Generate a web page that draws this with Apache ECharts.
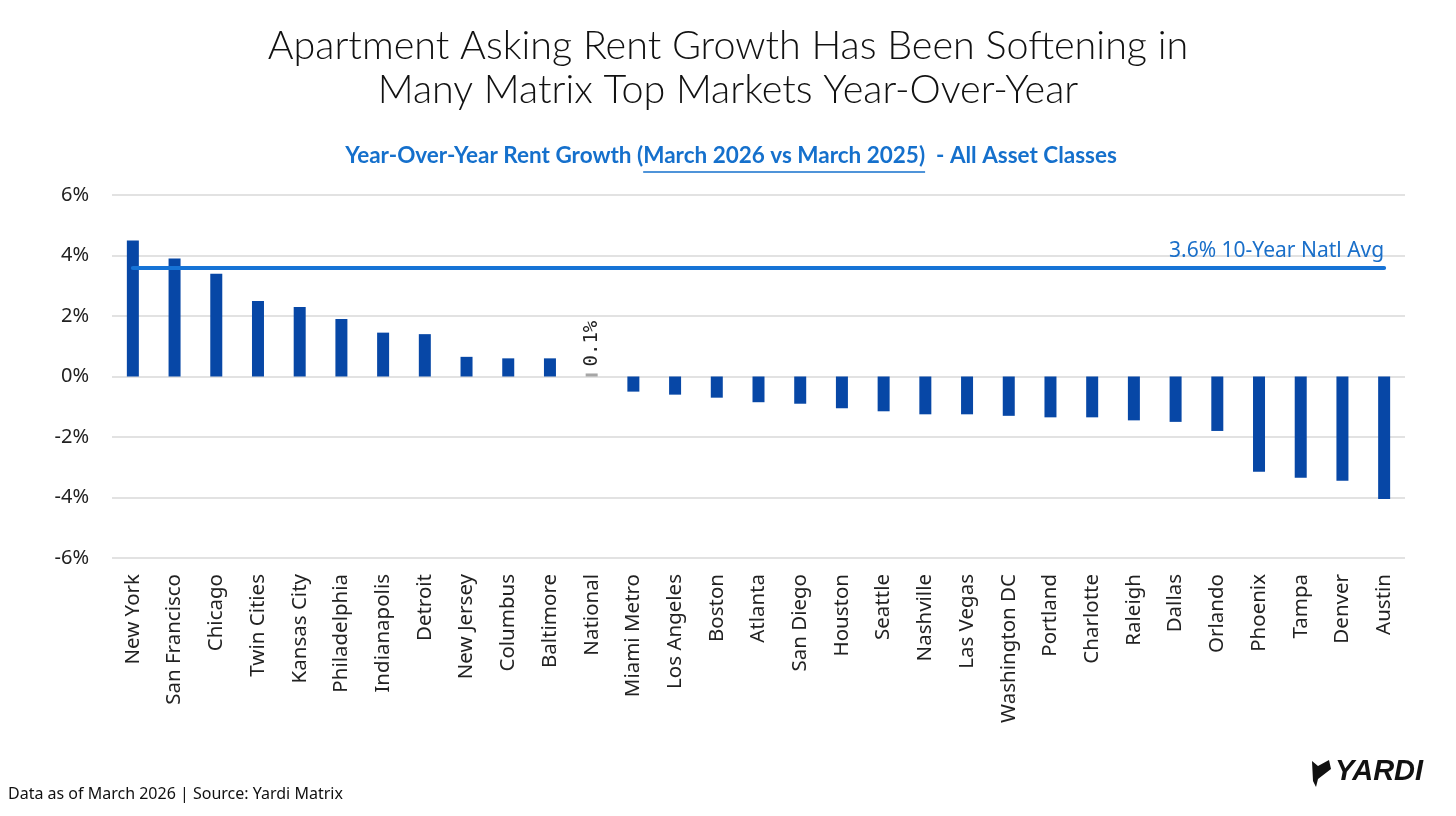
<!DOCTYPE html>
<html>
<head>
<meta charset="utf-8">
<script src="https://cdn.jsdelivr.net/npm/echarts@6/dist/echarts.min.js"></script>
<style>
  html, body { margin: 0; padding: 0; background: #fff; }
  #chart { width: 1456px; height: 816px; }
</style>
</head>
<body>
<div id="chart"></div>
<script>
// markets, sorted as in the source chart
const markets = ['New York', 'San Francisco', 'Chicago', 'Twin Cities', 'Kansas City', 'Philadelphia',
  'Indianapolis', 'Detroit', 'New Jersey', 'Columbus', 'Baltimore', 'National', 'Miami Metro',
  'Los Angeles', 'Boston', 'Atlanta', 'San Diego', 'Houston', 'Seattle', 'Nashville', 'Las Vegas',
  'Washington DC', 'Portland', 'Charlotte', 'Raleigh', 'Dallas', 'Orlando', 'Phoenix', 'Tampa',
  'Denver', 'Austin'];
// YoY rent growth, %
const growth = [4.5, 3.9, 3.4, 2.5, 2.3, 1.9, 1.45, 1.4, 0.65, 0.6, 0.6, 0.1, -0.5,
  -0.6, -0.7, -0.85, -0.9, -1.05, -1.15, -1.25, -1.25, -1.3, -1.35, -1.35, -1.45, -1.5,
  -1.8, -3.15, -3.35, -3.45, -4.05];
const yTicks = [-6, -4, -2, 0, 2, 4, 6];
const natlAvg = 3.6;
const highlight = 'National';

const blue = '#0747a6';
const lineBlue = '#1673d6';
const subtitle = 'Year-Over-Year Rent Growth (March 2026 vs March 2025)  - All Asset Classes';
const underlined = 'March 2026 vs March 2025';
const subFont = 'bold 22.5px Lato';

// work out where the underline goes
const ctx = document.createElement('canvas').getContext('2d');
ctx.font = subFont;
const subW = ctx.measureText(subtitle).width;
const subX0 = 731 - subW / 2;
const uStart = subX0 + ctx.measureText(subtitle.slice(0, subtitle.indexOf(underlined))).width;
const uEnd = uStart + ctx.measureText(underlined + ')').width;

const chart = echarts.init(document.getElementById('chart'));

chart.setOption({
  animation: false,
  title: {
    text: 'Apartment Asking Rent Growth Has Been Softening in\nMany Matrix Top Markets Year-Over-Year',
    left: 'center',
    top: 19,
    textStyle: {
      fontFamily: 'Lato',
      fontWeight: 300,
      fontSize: 39.5,
      lineHeight: 44,
      color: '#111'
    }
  },
  grid: { left: 112, right: 51, top: 195, bottom: 258 },
  xAxis: {
    type: 'category',
    data: markets,
    axisLine: { show: false, onZero: false },
    axisTick: { show: false },
    axisLabel: {
      rotate: 90,
      interval: 0,
      margin: 16,
      fontFamily: 'Noto Sans',
      fontSize: 20.5,
      color: '#222'
    }
  },
  yAxis: {
    type: 'value',
    min: yTicks[0],
    max: yTicks[yTicks.length - 1],
    interval: 2,
    axisLine: { show: false },
    axisTick: { show: false },
    axisLabel: {
      formatter: '{value}%',
      margin: 23,
      fontFamily: 'Noto Sans',
      fontSize: 20,
      color: '#222'
    },
    splitLine: { lineStyle: { color: '#d9d9d9', width: 1.5 } }
  },
  series: [{
    type: 'bar',
    barWidth: 12,
    data: growth.map((v, i) => {
      if (markets[i] !== highlight) return v;
      return {
        value: v,
        itemStyle: { color: '#a6a6a6' },
        label: {
          show: true,
          position: 'top',
          rotate: 90,
          align: 'left',
          verticalAlign: 'middle',
          distance: 7,
          formatter: '{c}%',
          fontFamily: 'DejaVu Sans Mono',
          fontSize: 19,
          color: '#222'
        }
      };
    }),
    itemStyle: { color: blue },
    markLine: {
      silent: true,
      symbol: 'none',
      z: 10,
      lineStyle: { color: lineBlue, width: 4, type: 'solid', cap: 'round' },
      label: {
        position: 'insideEndTop',
        distance: [0, 6],
        formatter: natlAvg + '% 10-Year Natl Avg',
        fontFamily: 'Noto Sans',
        fontSize: 21,
        color: '#1a6fc9'
      },
      data: [[
        { coord: [markets[0], natlAvg] },
        { coord: [markets[markets.length - 1], natlAvg] }
      ]]
    }
  }],
  graphic: [
    {
      type: 'text',
      left: subX0,
      top: 144,
      style: { text: subtitle, font: subFont, fill: '#1570cc' }
    },
    {
      type: 'line',
      shape: { x1: uStart, y1: 172, x2: uEnd, y2: 172 },
      style: { stroke: '#1570cc', lineWidth: 1.5 }
    },
    {
      type: 'text',
      left: 8,
      top: 786,
      style: { text: 'Data as of March 2026 | Source: Yardi Matrix', font: '16px "Noto Sans"', fill: '#111' }
    },
    {
      type: 'polygon',
      shape: { points: [[1312, 761], [1318, 766], [1329, 760], [1331, 769], [1318, 779], [1316, 787], [1313, 781]] },
      style: { fill: '#111' }
    },
    {
      type: 'text',
      left: 1335,
      top: 757,
      style: { text: 'YARDI', font: 'italic 900 29px "Liberation Sans"', fill: '#111' }
    }
  ]
});
</script>
</body>
</html>
